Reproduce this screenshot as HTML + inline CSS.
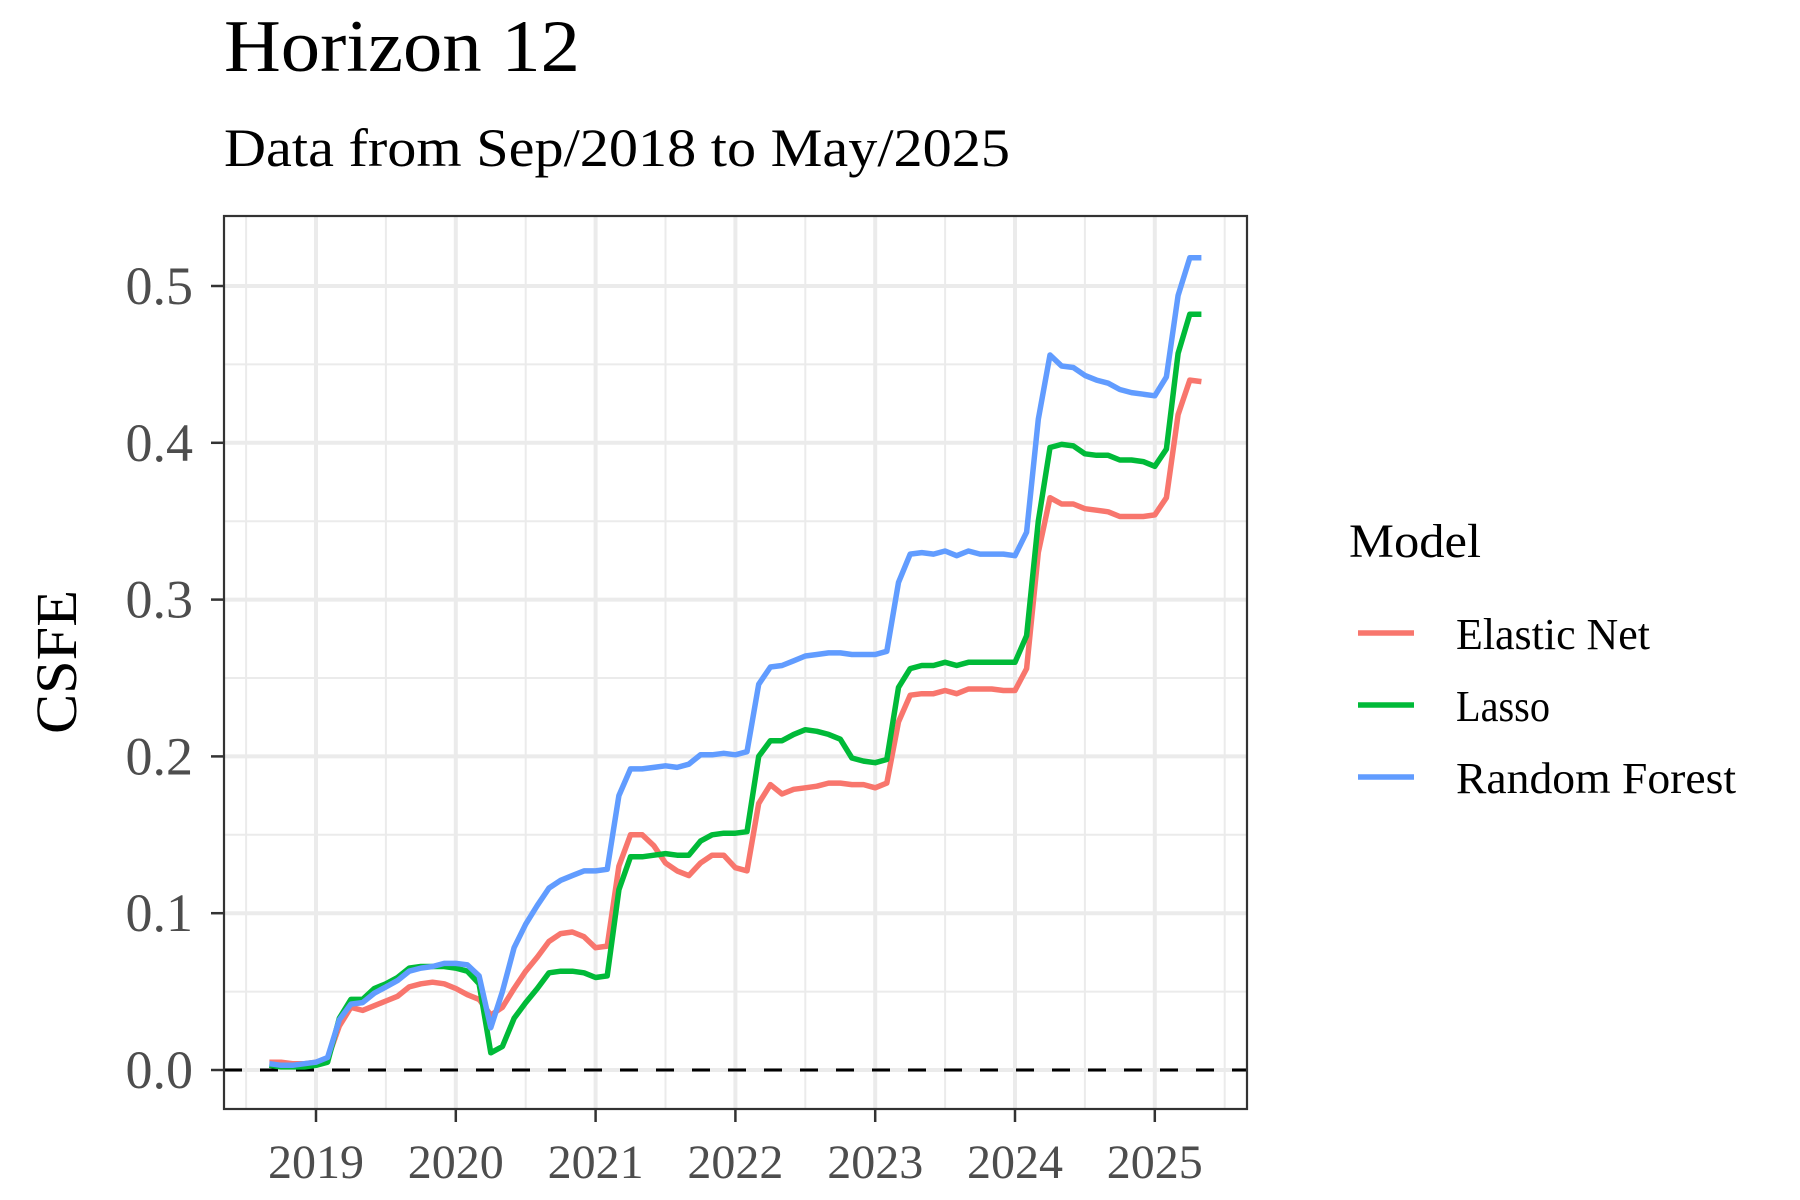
<!DOCTYPE html>
<html><head><meta charset="utf-8"><style>
html,body{margin:0;padding:0;background:#fff;}
svg{display:block;font-family:"Liberation Serif",serif;}
</style></head><body>
<svg id="chart" width="1800" height="1200" viewBox="0 0 1800 1200" xmlns="http://www.w3.org/2000/svg">
<rect width="1800" height="1200" fill="#fff"/>
<text x="224" y="71" font-size="74" fill="#000" textLength="356" lengthAdjust="spacingAndGlyphs">Horizon 12</text>
<text x="224" y="166" font-size="54" fill="#000" textLength="786" lengthAdjust="spacingAndGlyphs">Data from Sep/2018 to May/2025</text>
<g id="grid"></g>
<g id="series"></g>
<rect x="224" y="216" width="1023" height="893" fill="none" stroke="#333" stroke-width="2.2"/>
<g id="axes"></g>
<text transform="translate(76,662) rotate(-90)" text-anchor="middle" font-size="58" fill="#000" textLength="144" lengthAdjust="spacingAndGlyphs">CSFE</text>
<g>
<text x="1349" y="557" font-size="48" fill="#000" textLength="132" lengthAdjust="spacingAndGlyphs">Model</text>
<line x1="1358" x2="1414" y1="633" y2="633" stroke="#F8766D" stroke-width="5.5"/>
<text x="1456" y="649" font-size="44" fill="#000" textLength="194" lengthAdjust="spacingAndGlyphs">Elastic Net</text>
<line x1="1358" x2="1414" y1="705" y2="705" stroke="#00BA38" stroke-width="5.5"/>
<text x="1456" y="721" font-size="44" fill="#000" textLength="94" lengthAdjust="spacingAndGlyphs">Lasso</text>
<line x1="1358" x2="1414" y1="777" y2="777" stroke="#619CFF" stroke-width="5.5"/>
<text x="1456" y="793" font-size="44" fill="#000" textLength="280" lengthAdjust="spacingAndGlyphs">Random Forest</text>
</g>
</svg>
<script>
const startYear = 2018, startMonth = 9;
const elasticNet = [.005,.005,.004,.004,.005,
.007,.028,.040,.038,.041,.044,.047,.053,.055,.056,.055,.052,
.048,.045,.035,.040,.052,.063,.072,.082,.087,.088,.085,.078,
.079,.130,.150,.150,.143,.132,.127,.124,.132,.137,.137,.129,
.127,.170,.182,.176,.179,.180,.181,.183,.183,.182,.182,
.180,.183,.222,.239,.240,.240,.242,.240,.243,.243,.243,.242,
.242,.256,.330,.365,.361,.361,.358,.357,.356,.353,.353,.353,
.354,.365,.418,.440,.439];
const lasso = [.003,.002,.002,.002,.003,
.005,.033,.045,.045,.052,.055,.059,.065,.066,.066,.066,.065,
.063,.055,.011,.015,.033,.043,.052,.062,.063,.063,.062,.059,
.060,.115,.136,.136,.137,.138,.137,.137,.146,.150,.151,.151,
.152,.200,.210,.210,.214,.217,.216,.214,.211,.199,.197,
.196,.198,.244,.256,.258,.258,.260,.258,.260,.260,.260,.260,
.260,.277,.350,.397,.399,.398,.393,.392,.392,.389,.389,.388,
.385,.396,.457,.482,.482];
const randomForest = [.004,.003,.003,.004,.005,
.008,.032,.042,.043,.049,.053,.057,.063,.065,.066,.068,.068,
.067,.060,.027,.050,.078,.093,.105,.116,.121,.124,.127,.127,
.128,.175,.192,.192,.193,.194,.193,.195,.201,.201,.202,.201,
.203,.246,.257,.258,.261,.264,.265,.266,.266,.265,.265,
.265,.267,.311,.329,.330,.329,.331,.328,.331,.329,.329,.329,
.328,.343,.415,.456,.449,.448,.443,.440,.438,.434,.432,.431,
.430,.442,.494,.518,.518];
const xTickLabels = ["2019","2020","2021","2022","2023","2024","2025"];
const yTickLabels = ["0.0","0.1","0.2","0.3","0.4","0.5"];

const NS = "http://www.w3.org/2000/svg";
const X0 = 224, X1 = 1247, Y0 = 216, Y1 = 1109;
function xs(t){ return 316 + (t - 2019) * 139.8; }
function ys(v){ return 1070 - v * 1568; }
function mk(tag, attrs, parent){ const e = document.createElementNS(NS, tag); for (const k in attrs) e.setAttribute(k, attrs[k]); parent.appendChild(e); return e; }

const grid = document.getElementById('grid');
const axes = document.getElementById('axes');
[0.05,0.15,0.25,0.35,0.45].forEach(v => {
  const l = mk('line', {x1:X0, x2:X1, y1:ys(v), y2:ys(v), stroke:'#EBEBEB', 'stroke-width':2}, grid);
  
  
});
[2018.5,2019.5,2020.5,2021.5,2022.5,2023.5,2024.5,2025.5].forEach(t => {
  const l = mk('line', {x1:xs(t), x2:xs(t), y1:Y0, y2:Y1, stroke:'#EBEBEB', 'stroke-width':2}, grid);
  
  
});
yTickLabels.forEach(s => {
  const v = parseFloat(s);
  const l = mk('line', {x1:X0, x2:X1, y1:ys(v), y2:ys(v), stroke:'#EBEBEB', 'stroke-width':4}, grid);
  
  
  const tk = mk('line', {x1:X0-13, x2:X0, y1:ys(v), y2:ys(v), stroke:'#333', 'stroke-width':2.5}, axes);
  
  
  const tx = mk('text', {x:193, y:ys(v)+18, 'text-anchor':'end', 'font-size':54, fill:'#4D4D4D'}, axes);
  tx.textContent = s;
  
  
});
xTickLabels.forEach(s => {
  const t = parseInt(s);
  const l = mk('line', {x1:xs(t), x2:xs(t), y1:Y0, y2:Y1, stroke:'#EBEBEB', 'stroke-width':4}, grid);
  
  
  const tk = mk('line', {x1:xs(t), x2:xs(t), y1:Y1, y2:Y1+13, stroke:'#333', 'stroke-width':2.5}, axes);
  
  
  const tx = mk('text', {x:xs(t), y:1178, 'text-anchor':'middle', 'font-size':48, fill:'#4D4D4D'}, axes);
  tx.textContent = s;
  
  
});
const zl = mk('line', {x1:X0, x2:X1, y1:ys(0), y2:ys(0), stroke:'#000', 'stroke-width':3, 'stroke-dasharray':'18 18'}, grid);



const series = document.getElementById('series');
function draw(vals, color, name){
  const pts = vals.map((v, i) => { const t = startYear + (startMonth - 1 + i) / 12; return xs(t).toFixed(1) + ',' + ys(v).toFixed(1); }).join(' ');
  const p = mk('polyline', {points:pts, fill:'none', stroke:color, 'stroke-width':5.5, 'stroke-linejoin':'round'}, series);
  
  
}
draw(elasticNet, '#F8766D', 'elastic-net-line');
draw(lasso, '#00BA38', 'lasso-line');
draw(randomForest, '#619CFF', 'random-forest-line');
</script>
</body></html>
